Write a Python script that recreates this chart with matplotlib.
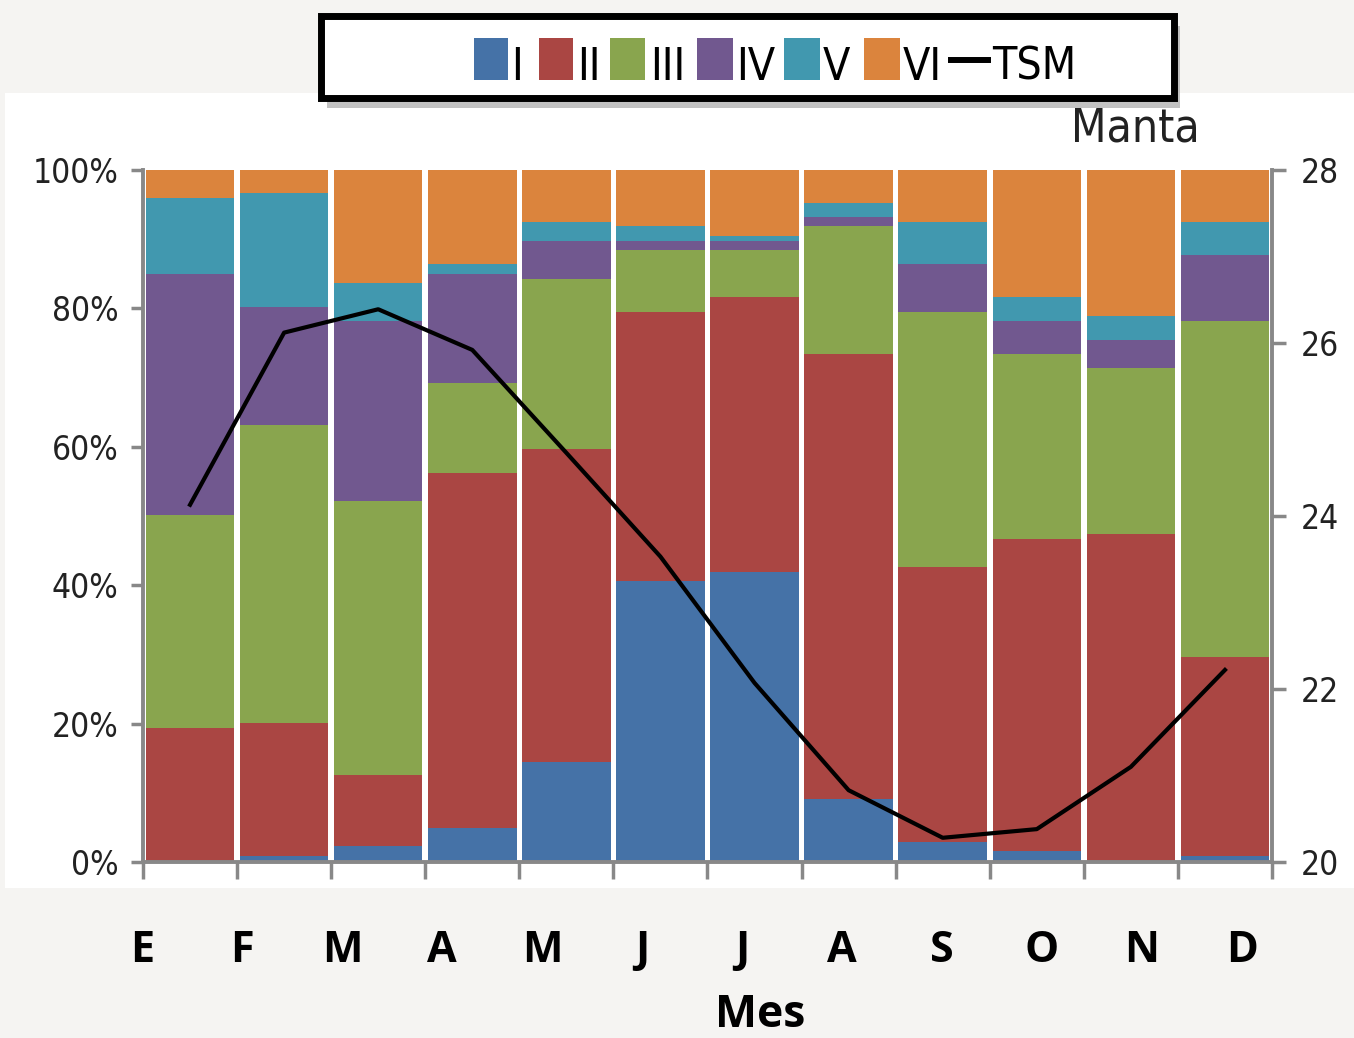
import numpy as np
import matplotlib
matplotlib.use('Agg')
import matplotlib.pyplot as plt
from matplotlib.patches import Rectangle
from matplotlib.lines import Line2D

# data (percent of each class per month, TSM in degC)
meses = ['E', 'F', 'M', 'A', 'M', 'J', 'J', 'A', 'S', 'O', 'N', 'D']
clase_I = [0.0, 0.9, 2.3, 4.9, 14.5, 40.6, 41.9, 9.1, 2.9, 1.6, 0.0, 0.9]
clase_II = [19.4, 19.2, 10.3, 51.3, 45.2, 38.9, 39.7, 64.3, 39.7, 45.1, 47.4, 28.7]
clase_III = [30.7, 43.1, 39.6, 13.0, 24.5, 8.9, 6.8, 18.5, 36.9, 26.7, 24.0, 48.6]
clase_IV = [34.9, 17.0, 26.0, 15.8, 5.5, 1.3, 1.3, 1.3, 6.9, 4.8, 4.0, 9.5]
clase_V = [11.0, 16.5, 5.5, 1.4, 2.8, 2.2, 0.8, 2.0, 6.1, 3.4, 3.5, 4.8]
clase_VI = [4.0, 3.3, 16.3, 13.6, 7.5, 8.1, 9.5, 4.8, 7.5, 18.4, 21.1, 7.5]
tsm = [24.13, 26.12, 26.39, 25.92, 24.73, 23.53, 22.07, 20.83, 20.28, 20.38, 21.10, 22.22]

etiquetas = ['I', 'II', 'III', 'IV', 'V', 'VI']
colores = ['#4572A7', '#AA4643', '#89A54E', '#71588F', '#4198AF', '#DB843D']
series = [clase_I, clase_II, clase_III, clase_IV, clase_V, clase_VI]

W, H = 1354, 1038
def fx(x):
    return x / W
def fy(y):
    return 1 - y / H

narrow = ['Liberation Sans Narrow', 'DejaVu Sans']
gris = '#888888'

fig = plt.figure(figsize=(W / 100, H / 100), dpi=100)
fig.patch.set_facecolor('#f5f4f2')
fig.add_artist(Rectangle((fx(5), fy(888)), fx(1354 - 5), (888 - 93) / H,
                         transform=fig.transFigure, facecolor='white',
                         edgecolor='none', zorder=0))

ax = fig.add_axes([fx(143), fy(862), fx(1272 - 143), (862 - 170) / H])
x = np.arange(len(meses))
base = np.zeros(len(meses))
for vals, col, lab in zip(series, colores, etiquetas):
    ax.bar(x, vals, width=0.94, bottom=base, color=col, label=lab, zorder=2)
    base += np.array(vals)

ax.set_xlim(-0.5, 11.5)
ax.set_ylim(0, 100)
ax.set_yticks([0, 20, 40, 60, 80, 100])
ax.set_yticklabels([f'{v}%' for v in [0, 20, 40, 60, 80, 100]],
                   fontsize=24, family=narrow, fontstretch='condensed', color='#222222')
ax.set_xticks(np.arange(-0.5, 12, 1))
ax.set_xticklabels([])
ax.tick_params(axis='y', length=9, width=2.5, color=gris, pad=8.5)
ax.tick_params(axis='x', length=12, width=2.5, color=gris)
for s in ['top', 'right']:
    ax.spines[s].set_visible(False)
for s in ['left', 'bottom']:
    ax.spines[s].set_color(gris)
    ax.spines[s].set_linewidth(2.8)

ax2 = ax.twinx()
ax2.plot(x, tsm, color='black', lw=3, zorder=5)
ax2.set_ylim(20, 28)
ax2.set_yticks([20, 22, 24, 26, 28])
ax2.set_yticklabels(['20', '22', '24', '26', '28'], fontsize=24, family=narrow,
                    fontstretch='condensed', color='#222222')
ax2.tick_params(axis='y', length=10, width=2.5, color=gris, pad=11)
for s in ['top', 'left', 'bottom']:
    ax2.spines[s].set_visible(False)
ax2.spines['right'].set_color(gris)
ax2.spines['right'].set_linewidth(2.8)

# month labels and axis title
for xp, m in zip(np.linspace(142, 1242, len(meses)), meses):
    fig.text(fx(xp), fy(962), m, ha='center', va='baseline', fontsize=31,
             fontweight='bold', family='Open Sans')
fig.text(fx(760), fy(1027), 'Mes', ha='center', va='baseline', fontsize=32,
         fontweight='bold', family='Open Sans')

fig.text(fx(1200), fy(141), 'Manta', ha='right', va='baseline', fontsize=33,
         family=narrow, fontstretch='condensed', color='#222222')

# legend box with shadow
fig.add_artist(Rectangle((fx(327), fy(108)), fx(1173 - 320), (97 - 15) / H,
                         transform=fig.transFigure, facecolor='#a8a8a8',
                         edgecolor='none', alpha=0.7, zorder=3))
fig.add_artist(Rectangle((fx(320.5), fy(97.5)), fx(1173.5 - 320.5), (97.5 - 15.5) / H,
                         transform=fig.transFigure, facecolor='white',
                         edgecolor='black', lw=5, zorder=4))
parches = [(474, 508), (539, 573), (610, 645), (697, 733), (784, 820), (864, 900)]
textos_x = [511, 577, 650, 736, 823, 903]
for (x0, x1), tx, col, lab in zip(parches, textos_x, colores, etiquetas):
    fig.add_artist(Rectangle((fx(x0), fy(80)), fx(x1 - x0), (80 - 38) / H,
                             transform=fig.transFigure, facecolor=col,
                             edgecolor='none', zorder=5))
    fig.text(fx(tx), fy(80), lab, ha='left', va='baseline', fontsize=32,
             family=narrow, fontstretch='condensed', zorder=6)
fig.add_artist(Line2D([fx(951), fx(988)], [fy(60), fy(60)], color='black', lw=4.3,
                      transform=fig.transFigure, zorder=5))
fig.text(fx(992), fy(80), 'TSM', ha='left', va='baseline', fontsize=32,
         family=narrow, fontstretch='condensed', zorder=6)

fig.savefig('out.png', dpi=100, facecolor=fig.get_facecolor())
